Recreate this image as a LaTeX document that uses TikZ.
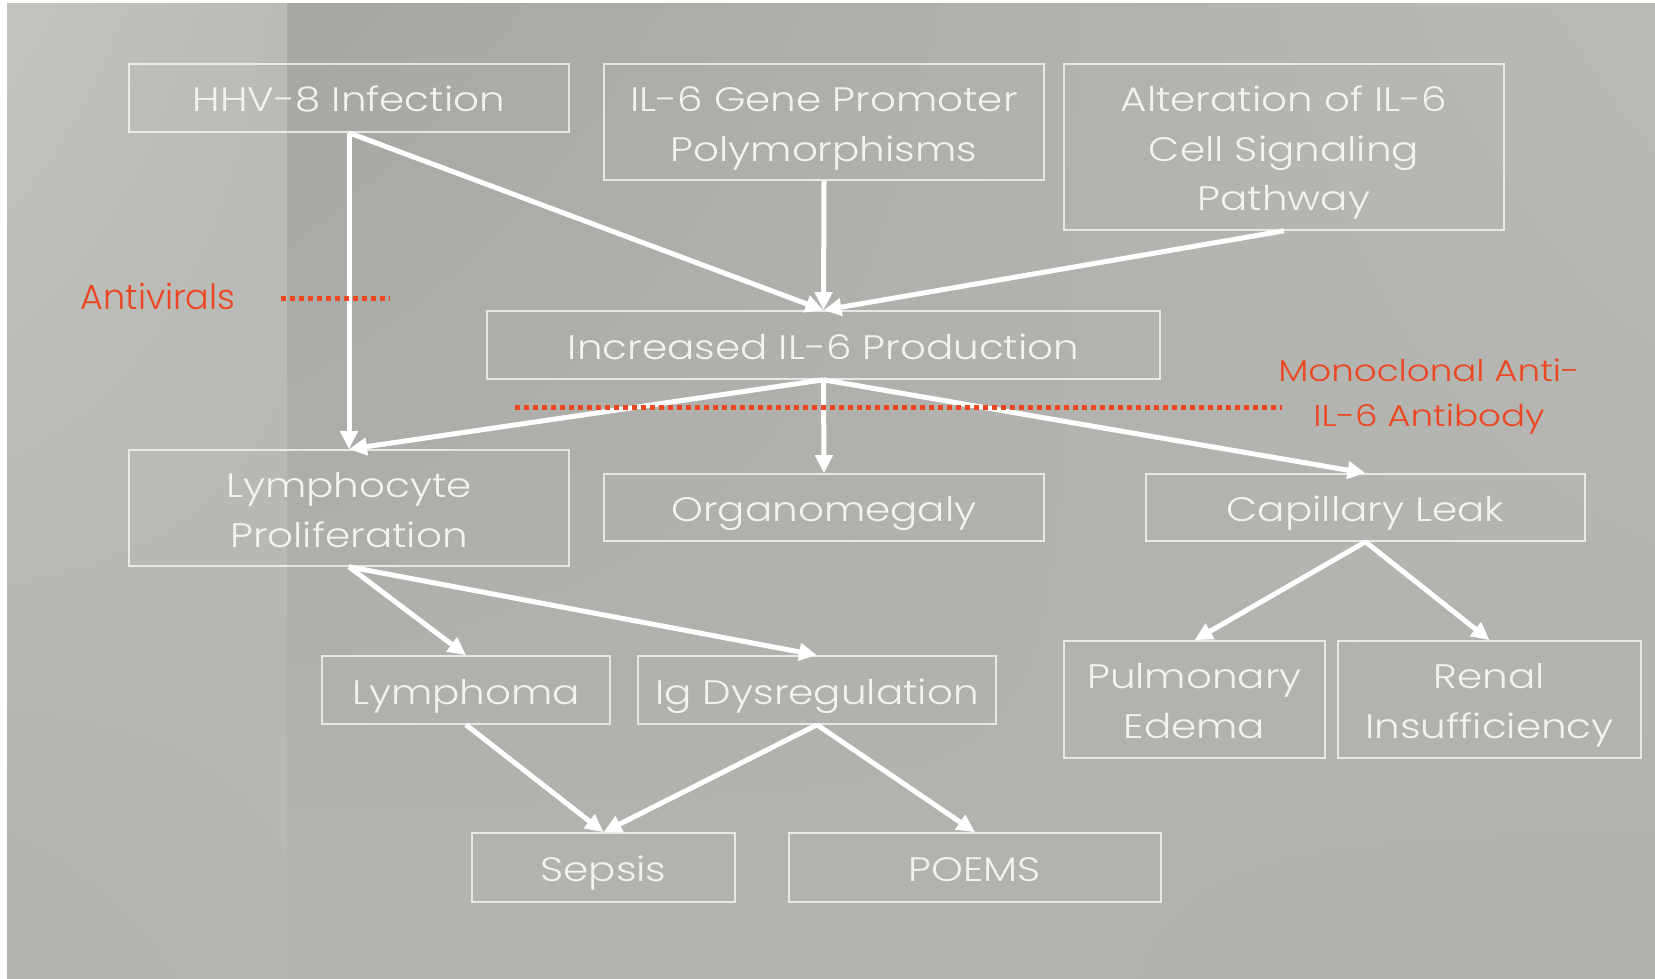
\documentclass[tikz,border=0pt]{standalone}
\usepackage{fontspec}
\setmainfont{Poppins Light}[FakeStretch=1.19]
\newfontfamily\narrowfont{Poppins Light}
\usetikzlibrary{arrows.meta,shadings}
\definecolor{redc}{RGB}{236,70,34}
\definecolor{txt}{HTML}{F2F2EE}
\definecolor{mUL}{RGB}{166,167,162}
\definecolor{mUR}{RGB}{186,187,182}
\definecolor{mLL}{RGB}{180,181,176}
\definecolor{mLR}{RGB}{176,177,172}
\definecolor{lUL}{RGB}{194,195,190}
\definecolor{lUR}{RGB}{186,187,182}
\definecolor{lLL}{RGB}{178,179,174}
\definecolor{lLR}{RGB}{182,183,178}
\begin{document}
\begin{tikzpicture}[x=1pt,y=-1pt,
  box/.style={draw=white, draw opacity=0.7, line width=1.6pt, text=txt, align=center,
    inner sep=0pt, font=\fontsize{34}{50}\selectfont, text height=28pt, text depth=0pt},
  two/.style={text height=78pt},
  three/.style={text height=128pt},
  flow/.style={draw=white, line width=5pt, -{Triangle[length=18pt,width=17pt]}},
  block/.style={draw=redc, line width=5pt, dash pattern=on 5pt off 4pt},
  lbl/.style={text=redc, align=center, inner sep=0pt}]
\useasboundingbox (0,0) rectangle (1655,979);
% background
\fill[white] (0,0) rectangle (1655,979);
\shade[upper left=mUL, upper right=mUR, lower left=mLL, lower right=mLR] (287,4) rectangle (1655,979);
\shade[upper left=lUL, upper right=lUR, lower left=lLL, lower right=lLR] (7,4) rectangle (287,979);
% boxes
\node[box, minimum width=440pt, minimum height=68pt] (hhv) at (349,98) {HHV-8 Infection};
\node[box, two, minimum width=440pt, minimum height=116pt] (gene) at (824,122) {IL-6 Gene Promoter\\Polymorphisms};
\node[box, three, minimum width=440pt, minimum height=166pt] (alt) at (1284,147) {Alteration of IL-6\\Cell Signaling\\Pathway};
\node[box, minimum width=673pt, minimum height=68pt] (inc) at (823.5,345) {Increased IL-6 Production};
\node[box, two, minimum width=440pt, minimum height=116pt] (lym) at (349,508) {Lymphocyte\\Proliferation};
\node[box, minimum width=440pt, minimum height=67pt] (org) at (824,507.5) {Organomegaly};
\node[box, minimum width=439pt, minimum height=67pt] (cap) at (1365.5,507.5) {Capillary Leak};
\node[box, minimum width=288pt, minimum height=68pt] (lyma) at (466,690) {Lymphoma};
\node[box, minimum width=358pt, minimum height=68pt] (ig) at (817,690) {Ig Dysregulation};
\node[box, minimum width=263pt, minimum height=69pt] (sep) at (603.5,867.5) {Sepsis};
\node[box, minimum width=372pt, minimum height=69pt] (poems) at (975,867.5) {POEMS};
\node[box, two, minimum width=261pt, minimum height=117pt] (pul) at (1194.5,699.5) {Pulmonary\\Edema};
\node[box, two, minimum width=303pt, minimum height=117pt] (ren) at (1489.5,699.5) {Renal\\Insufficiency};
% connectors
\draw[flow] (hhv.south) -- (lym.north);
\draw[flow] (hhv.south) -- (inc.north);
\draw[flow] (gene.south) -- (inc.north);
\draw[flow] (alt.south) -- (inc.north);
\draw[flow] (inc.south) -- (lym.north);
\draw[flow] (inc.south) -- (org.north);
\draw[flow] (inc.south) -- (cap.north);
\draw[flow] (lym.south) -- (lyma.north);
\draw[flow] (lym.south) -- (ig.north);
\draw[flow] (lyma.south) -- (sep.north);
\draw[flow] (ig.south) -- (sep.north);
\draw[flow] (ig.south) -- (poems.north);
\draw[flow] (cap.south) -- (pul.north);
\draw[flow] (cap.south) -- (ren.north);
% inhibitors
\node[lbl, font=\narrowfont\fontsize{35}{44}\selectfont, text height=25pt, text depth=0pt] (av) at (158,297) {Antivirals};
\coordinate (avA) at (281,298);
\coordinate (avB) at (390,298);
\draw[block] (avA) -- (avB);
\node[lbl, font=\fontsize{30}{45}\selectfont, text height=66pt, text depth=0pt] (mab) at (1429,393) {Monoclonal Anti-\\IL-6 Antibody};
\coordinate (mA) at (515,407);
\coordinate (mB) at (1282,407);
\draw[block] (mA) -- (mB);
\end{tikzpicture}
\end{document}
